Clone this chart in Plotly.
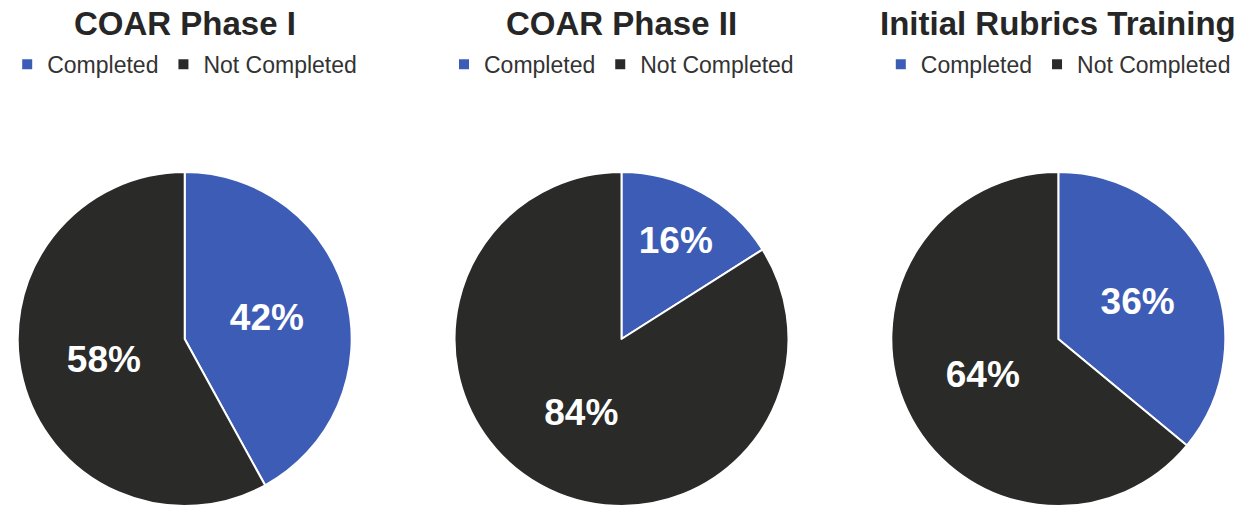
import plotly.graph_objects as go

titles = ["COAR Phase I", "COAR Phase II", "Initial Rubrics Training"]
labels = ["Completed", "Not Completed"]
completed = [42, 16, 36]
not_completed = [58, 84, 64]
colors = ["#3D5CB6", "#2A2A28"]

centers = [0.148, 0.498, 0.848]
half_w = 0.135

fig = go.Figure()
legend_names = ["legend", "legend2", "legend3"]
for i in range(3):
    # zero-width spaces keep each pie's legend entries distinct (pie legends dedupe by label)
    uniq = [lab + "\u200b" * i for lab in labels]
    fig.add_trace(go.Pie(
        labels=uniq,
        values=[completed[i], not_completed[i]],
        sort=False,
        direction="clockwise",
        rotation=0,
        marker=dict(colors=colors, line=dict(color="white", width=2)),
        texttemplate="%{value}%",
        textposition="inside",
        insidetextorientation="horizontal",
        textfont=dict(family="Arial", size=37, color="white", weight="bold"),
        domain=dict(x=[centers[i] - half_w, centers[i] + half_w], y=[0.0, 0.66]),
        legend=legend_names[i],
        hoverinfo="label+percent",
    ))

layout_legends = {}
for i, name in enumerate(legend_names):
    layout_legends[name] = dict(
        orientation="h", x=centers[i], xanchor="center", y=0.873, yanchor="middle",
        font=dict(family="Arial", size=23, color="#333333"),
        bgcolor="rgba(0,0,0,0)", itemclick=False, itemdoubleclick=False,
    )

annotations = [
    dict(text=f"<b>{titles[i]}</b>", x=centers[i], y=1 - 24 / 506, xref="paper", yref="paper",
         xanchor="center", yanchor="middle", showarrow=False,
         font=dict(family="Arial", size=33, color="#262626"))
    for i in range(3)
]

fig.update_layout(
    width=1248, height=506,
    margin=dict(l=0, r=0, t=0, b=0),
    paper_bgcolor="white", plot_bgcolor="white",
    annotations=annotations,
    **layout_legends,
)

fig.write_html("out.html")
